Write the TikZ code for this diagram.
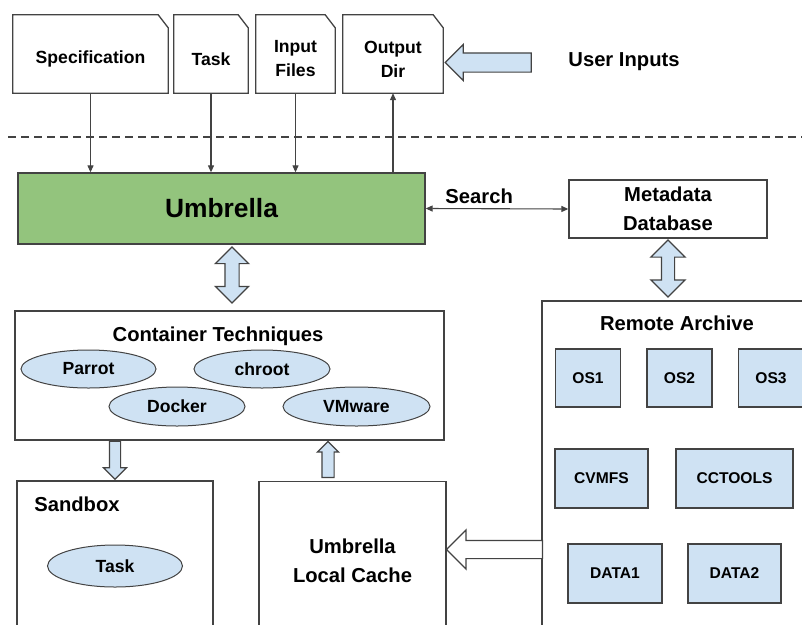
\documentclass[tikz,border=0pt]{standalone}
\usepackage{fontspec}
\setmainfont{Liberation Sans}
\usetikzlibrary{positioning,shapes.geometric,shapes.arrows,arrows.meta}
\definecolor{umbgreen}{HTML}{93C47D}
\definecolor{lightblue}{HTML}{CFE2F3}
\definecolor{edge}{HTML}{434343}
\tikzset{
  docbox/.style={minimum height=78pt, inner sep=0pt},
  doctext/.style={inner sep=0pt, align=center, font=\fontsize{17.6}{24}\selectfont\bfseries},
  plainbox/.style={draw=edge, line width=1.3pt, inner sep=0pt, align=center},
  tagname/.style={font=\fontsize{20.2}{28.5}\selectfont\bfseries, align=center, inner sep=0pt},
  tool/.style={ellipse, draw=edge, line width=1pt, fill=lightblue, inner sep=0pt, font=\fontsize{17.6}{21}\selectfont\bfseries},
  item/.style={draw=edge, line width=1.3pt, fill=lightblue, inner sep=0pt, font=\fontsize{15.6}{19}\selectfont\bfseries},
  tip/.tip={Triangle[length=7pt,width=6pt]},
  thinarrow/.style={draw=edge, line width=1.1pt, -tip},
  bigarrow/.style={draw=edge, line width=1.2pt, fill=lightblue, inner xsep=0pt, outer sep=0pt},
}
\begin{document}
\begin{tikzpicture}[x=1pt,y=-1pt]
  \useasboundingbox (0,0) rectangle (802,624);
  % user inputs
  \node[docbox, minimum width=155pt] (spec) at (90.5,54) {};
  \node[docbox, minimum width=74pt] (task) at (211,54) {};
  \node[docbox, minimum width=79pt] (inp) at (295.5,54) {};
  \node[docbox, minimum width=100pt] (outd) at (393,54) {};
  \node[doctext] (specT) at ([yshift=-5pt]spec.center) {Specification};
  \node[doctext] (taskT) at ([yshift=-5pt]task.center) {Task};
  \node[doctext] (inpT) at ([yshift=-5pt]inp.center) {Input\\Files};
  \node[doctext] (outdT) at ([yshift=-5pt]outd.center) {Output\\Dir};
  \foreach \n in {spec,task,inp,outd}
    \draw[draw=edge, line width=1.3pt] (\n.south west) -- (\n.north west) -- ([xshift=-10pt]\n.north east)
      -- ([yshift=-13pt]\n.north east) -- (\n.south east) -- cycle;
  \node[bigarrow, single arrow, rotate=180, minimum height=86pt, minimum width=35pt,
    inner ysep=9pt, single arrow head extend=8.5pt] (userarr) at (493,62.5) {};
  \node[tagname] (user) at (624,62) {User Inputs};
  \draw[draw=edge, line width=1.2pt, dash pattern=on 8pt off 5pt] (8,137) -- (802,137);

  % umbrella and metadata
  \node[plainbox, fill=umbgreen, minimum width=407pt, minimum height=71pt,
    font=\fontsize{26.4}{30}\selectfont\bfseries] (umb) at (221.5,208.5) {Umbrella};
  \node[plainbox, tagname, minimum width=198pt, minimum height=58pt] (meta) at (668,209) {Metadata\\Database};
  \draw[thinarrow] (spec.south) -- (spec.south |- umb.north);
  \draw[thinarrow] (task.south) -- (task.south |- umb.north);
  \draw[thinarrow] (inp.south) -- (inp.south |- umb.north);
  \draw[thinarrow] (outd.south |- umb.north) -- (outd.south);
  \draw[thinarrow, tip-tip] (umb.east) -- node[tagname, pos=.375, above=4pt] (srch) {Search} (meta.west);

  % container techniques
  \node[plainbox, minimum width=429pt, minimum height=129pt] (cont) at (229.5,375.5) {};
  \node[tagname] (contT) at (218,336) {Container Techniques};
  \node[tool, minimum width=135pt, minimum height=38pt] (parrot) at (88.5,369) {Parrot};
  \node[tool, minimum width=136pt, minimum height=38pt] (chroot) at (262,369) {chroot};
  \node[tool, minimum width=136pt, minimum height=39pt] (docker) at (177,406.5) {Docker};
  \node[tool, minimum width=147pt, minimum height=39pt] (vmware) at (356.5,406.5) {VMware};
  \node[bigarrow, double arrow, rotate=90, minimum height=56pt, minimum width=32pt,
    inner ysep=6.5pt, double arrow head extend=9.5pt] (umbcont) at (232,275) {};

  % sandbox and cache
  \node[plainbox, minimum width=196pt, minimum height=159pt] (sand) at (115,560.5) {};
  \node[tagname] (sandT) at (77,504) {Sandbox};
  \node[tool, minimum width=135pt, minimum height=42pt] (runtask) at (115,566) {Task};
  \node[plainbox, tagname, minimum width=187pt, minimum height=159pt] (cache) at (352.5,561) {Umbrella\\Local Cache};
  \node[bigarrow, single arrow, rotate=-90, minimum height=38pt, minimum width=22pt,
    inner ysep=5pt, single arrow head extend=6pt] (contsand) at (115,457.5) {};
  \node[bigarrow, single arrow, rotate=90, minimum height=36pt, minimum width=20pt,
    inner ysep=5.5pt, single arrow head extend=4.5pt] (cachecont) at (328,462.5) {};

  % remote archive
  \node[plainbox, minimum width=273pt, minimum height=339pt] (remote) at (678.5,470.5) {};
  \node[tagname] (remoteT) at (677,323) {Remote Archive};
  \node[item, minimum width=65pt, minimum height=58pt] (os1) at (588,378) {OS1};
  \node[item, minimum width=65pt, minimum height=58pt] (os2) at (679.5,378) {OS2};
  \node[item, minimum width=65pt, minimum height=58pt] (os3) at (771,378) {OS3};
  \node[item, minimum width=93pt, minimum height=59pt] (cvmfs) at (601.5,478.5) {CVMFS};
  \node[item, minimum width=117pt, minimum height=59pt] (cctools) at (734.5,478.5) {CCTOOLS};
  \node[item, minimum width=94pt, minimum height=59pt] (data1) at (615,573.5) {DATA1};
  \node[item, minimum width=93pt, minimum height=59pt] (data2) at (734.5,573.5) {DATA2};
  \node[bigarrow, double arrow, rotate=90, minimum height=57pt, minimum width=33pt,
    inner ysep=6pt, double arrow head extend=10.5pt] (metaremote) at (668,268.5) {};
  \node[bigarrow, fill=white, single arrow, rotate=180, minimum height=96pt, minimum width=38pt,
    inner ysep=8.5pt, single arrow head extend=10.5pt] (fetch) at (499,549.5) {};
\end{tikzpicture}
\end{document}
